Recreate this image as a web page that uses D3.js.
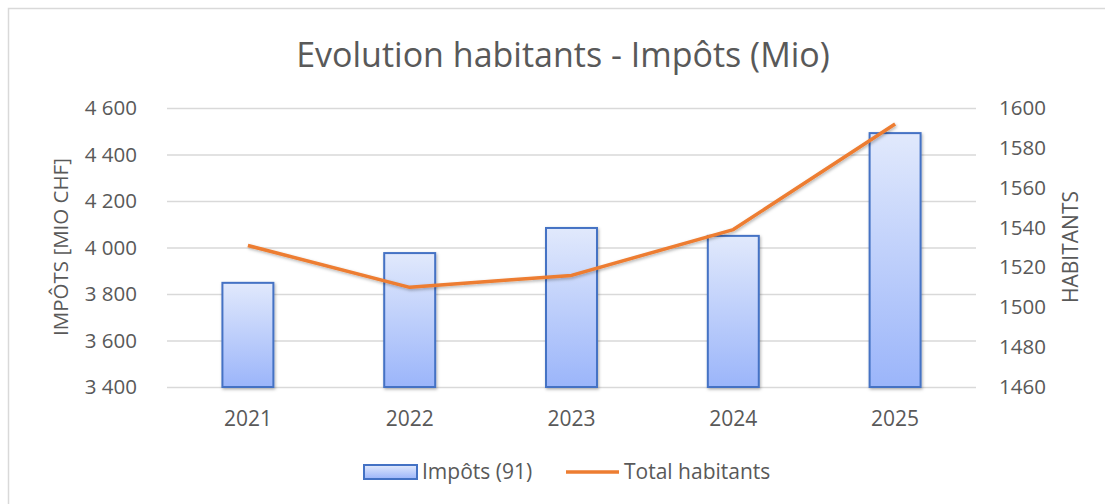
<!DOCTYPE html>
<html>
<head>
<meta charset="utf-8">
<script src="https://cdn.jsdelivr.net/npm/d3@7"></script>
<style>
  body { margin: 0; background: #fff; }
  svg { font-family: "Open Sans", sans-serif; }
  .grid line { stroke: #d9d9d9; stroke-width: 1.5; }
  .grid path { display: none; }
  .axis path, .axis line { display: none; }
  .axis text { fill: #595959; font-size: 20.5px; font-family: "Open Sans", sans-serif; }
  .axis.x text { font-size: 21px; }
</style>
</head>
<body>
<svg id="chart" width="1105" height="504"></svg>
<script>
// data
const years = ["2021", "2022", "2023", "2024", "2025"];
const impots = [3848, 3976, 4084, 4050, 4492];
const habitants = [1531, 1510, 1516, 1539, 1592];
const leftTicks = [3400, 3600, 3800, 4000, 4200, 4400, 4600];
const rightTicks = [1460, 1480, 1500, 1520, 1540, 1560, 1580, 1600];

const svg = d3.select("#chart");
const margin = {top: 108, right: 129, bottom: 117, left: 167};
const width = +svg.attr("width") - margin.left - margin.right;
const height = +svg.attr("height") - margin.top - margin.bottom;

// chart border
svg.append("rect")
    .attr("x", 8.5).attr("y", 8.5)
    .attr("width", 1110).attr("height", 510)
    .attr("fill", "none")
    .attr("stroke", "#d9d9d9")
    .attr("stroke-width", 1.5);

const defs = svg.append("defs");
const grad = defs.append("linearGradient")
    .attr("id", "barGrad")
    .attr("x1", 0).attr("y1", 0).attr("x2", 0).attr("y2", 1);
grad.append("stop").attr("offset", "0%").attr("stop-color", "#e1e9fc");
grad.append("stop").attr("offset", "100%").attr("stop-color", "#9bb5fa");

const shadow = defs.append("filter").attr("id", "shadow")
    .attr("x", "-20%").attr("y", "-20%").attr("width", "140%").attr("height", "140%");
shadow.append("feDropShadow")
    .attr("dx", 1).attr("dy", 1.5).attr("stdDeviation", 1.5)
    .attr("flood-color", "#000").attr("flood-opacity", 0.3);

const g = svg.append("g").attr("transform", `translate(${margin.left},${margin.top})`);

const x = d3.scaleBand().domain(years).range([0, width]).padding(0);
const yL = d3.scaleLinear().domain([3400, 4600]).range([height, 0]);
const yR = d3.scaleLinear().domain([1460, 1600]).range([height, 0]);

const fr = d3.formatLocale({decimal: ",", thousands: " ", grouping: [3], currency: ["", ""]});

// gridlines
g.append("g")
    .attr("class", "grid")
    .call(d3.axisLeft(yL).tickValues(leftTicks).tickSize(-width).tickFormat(""));

// bars
const barW = x.bandwidth() * 0.315;
g.selectAll(".bar")
    .data(impots)
    .enter().append("rect")
    .attr("class", "bar")
    .attr("x", (d, i) => x(years[i]) + (x.bandwidth() - barW) / 2)
    .attr("y", d => yL(d))
    .attr("width", barW)
    .attr("height", d => height - yL(d))
    .attr("fill", "url(#barGrad)")
    .attr("stroke", "#4472c4")
    .attr("stroke-width", 2)
    .attr("filter", "url(#shadow)");

// line
const line = d3.line()
    .x((d, i) => x(years[i]) + x.bandwidth() / 2)
    .y(d => yR(d));

g.append("path")
    .datum(habitants)
    .attr("d", line)
    .attr("fill", "none")
    .attr("stroke", "#ed7d31")
    .attr("stroke-width", 3.5)
    .attr("stroke-linejoin", "round")
    .attr("filter", "url(#shadow)");

// axes
g.append("g")
    .attr("class", "axis")
    .call(d3.axisLeft(yL).tickValues(leftTicks).tickSize(0).tickPadding(30).tickFormat(fr.format(",")));

g.append("g")
    .attr("class", "axis")
    .attr("transform", `translate(${width},0)`)
    .call(d3.axisRight(yR).tickValues(rightTicks).tickSize(0).tickPadding(23).tickFormat(d3.format("d")));

g.append("g")
    .attr("class", "axis x")
    .attr("transform", `translate(0,${height})`)
    .call(d3.axisBottom(x).tickSize(0).tickPadding(24));

// title
svg.append("text")
    .attr("x", 563).attr("y", 67)
    .attr("text-anchor", "middle")
    .attr("fill", "#595959")
    .style("font-size", "34px")
    .text("Evolution habitants - Impôts (Mio)");

// axis titles
svg.append("text")
    .attr("transform", "translate(68,247) rotate(-90)")
    .attr("text-anchor", "middle")
    .attr("fill", "#595959")
    .style("font-size", "20.5px")
    .text("IMPÔTS [MIO CHF]");

svg.append("text")
    .attr("transform", "translate(1078,247) rotate(-90)")
    .attr("text-anchor", "middle")
    .attr("fill", "#595959")
    .style("font-size", "21px")
    .text("HABITANTS");

// legend
const legend = svg.append("g");
legend.append("rect")
    .attr("x", 364).attr("y", 465)
    .attr("width", 53).attr("height", 14)
    .attr("fill", "url(#barGrad)")
    .attr("stroke", "#4472c4")
    .attr("stroke-width", 2);
legend.append("text")
    .attr("x", 422).attr("y", 479)
    .attr("fill", "#595959")
    .style("font-size", "21px")
    .text("Impôts (91)");
legend.append("line")
    .attr("x1", 566).attr("x2", 619)
    .attr("y1", 472).attr("y2", 472)
    .attr("stroke", "#ed7d31")
    .attr("stroke-width", 3.5);
legend.append("text")
    .attr("x", 624).attr("y", 479)
    .attr("fill", "#595959")
    .style("font-size", "21px")
    .text("Total habitants");
</script>
</body>
</html>
